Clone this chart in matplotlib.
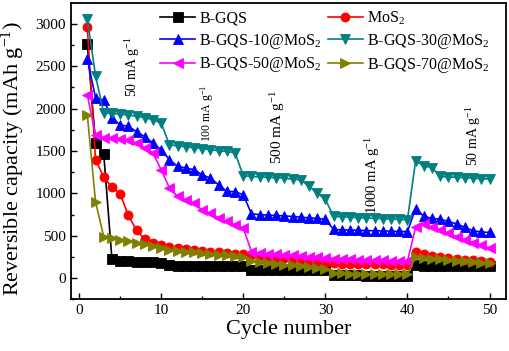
import matplotlib
matplotlib.use("Agg")
import matplotlib.pyplot as plt
from matplotlib.ticker import MultipleLocator

plt.rcParams['font.family'] = ['Liberation Serif', 'DejaVu Serif']
plt.rcParams['mathtext.fontset'] = 'custom'
plt.rcParams['mathtext.rm'] = 'Liberation Serif'
plt.rcParams['mathtext.default'] = 'regular'

cycles = list(range(1, 51))

b_gqs = [2760, 1600, 1470, 225, 205, 200, 195, 190, 190, 185,
         150, 148, 147, 146, 145, 144, 143, 142, 141, 140,
         100, 99, 98, 97, 97, 96, 96, 95, 95, 95,
         35, 34, 33, 33, 32, 32, 31, 31, 30, 30,
         150, 148, 147, 146, 145, 144, 143, 142, 141, 140]

mos2 = [2960, 1400, 1190, 1075, 995, 740, 565, 460, 415, 395,
        370, 355, 345, 335, 325, 315, 305, 298, 290, 285,
        275, 262, 252, 243, 235, 225, 215, 205, 195, 185,
        175, 172, 170, 168, 166, 164, 162, 160, 158, 156,
        310, 285, 265, 250, 238, 228, 218, 210, 200, 193]

gqs10 = [2590, 2130, 2100, 1890, 1810, 1790, 1730, 1670, 1595, 1515,
         1400, 1320, 1300, 1280, 1220, 1180, 1100, 1025, 1020, 985,
         760, 750, 745, 740, 735, 728, 720, 712, 705, 695,
         575, 570, 568, 565, 562, 560, 557, 555, 552, 550,
         820, 730, 705, 695, 670, 640, 600, 560, 545, 540]

gqs30 = [3060, 2390, 1950, 1945, 1935, 1925, 1910, 1895, 1870, 1830,
         1575, 1560, 1550, 1540, 1530, 1515, 1505, 1495, 1480, 1210,
         1200, 1195, 1190, 1185, 1180, 1170, 1160, 1085, 1005, 930,
         730, 725, 720, 715, 710, 706, 702, 698, 694, 690,
         1385, 1325, 1305, 1200, 1195, 1190, 1185, 1180, 1175, 1170]

gqs50 = [2165, 1690, 1655, 1650, 1645, 1630, 1595, 1535, 1475, 1280,
         1065, 965, 925, 885, 805, 765, 710, 672, 630, 590,
         315, 300, 290, 282, 275, 268, 260, 253, 246, 240,
         232, 228, 224, 220, 216, 213, 210, 206, 203, 200,
         600, 640, 600, 570, 530, 490, 455, 420, 390, 355]

gqs70 = [1930, 905, 490, 470, 455, 435, 415, 400, 385, 360,
         335, 325, 315, 305, 295, 285, 275, 268, 260, 255,
         200, 190, 180, 170, 160, 150, 140, 130, 120, 110,
         60, 57, 55, 53, 51, 50, 49, 48, 47, 46,
         250, 240, 232, 225, 215, 207, 200, 192, 185, 178]

labels = ['B-GQS', 'MoS$_2$', 'B-GQS-10@MoS$_2$', 'B-GQS-30@MoS$_2$',
          'B-GQS-50@MoS$_2$', 'B-GQS-70@MoS$_2$']
series = [b_gqs, mos2, gqs10, gqs30, gqs50, gqs70]
colors = ['#000000', '#FF0000', '#0000FF', '#008080', '#FF00FF', '#808000']
markers = ['s', 'o', '^', 'v', '<', '>']

fig = plt.figure(figsize=(5.10, 3.51), dpi=100)
ax = fig.add_axes([0.139, 0.147, 0.853, 0.844])

handles = []
for y, c, m, lab in zip(series, colors, markers, labels):
    h, = ax.plot(cycles, y, color=c, marker=m, markersize=6.5, linewidth=1.2,
                 markeredgewidth=0.6, label=lab)
    handles.append(h)

ax.set_xlim(-1, 52)
ax.set_ylim(-250, 3245)
ax.xaxis.set_major_locator(MultipleLocator(10))
ax.xaxis.set_minor_locator(MultipleLocator(5))
ax.yaxis.set_major_locator(MultipleLocator(500))
ax.yaxis.set_minor_locator(MultipleLocator(250))
ax.tick_params(which='both', direction='in', top=False, right=False,
               labelsize=11, width=1.0)
ax.tick_params(which='major', length=4)
ax.tick_params(which='minor', length=2.5)
for s in ax.spines.values():
    s.set_linewidth(1.3)

ax.set_xlabel('Cycle number', fontsize=16, labelpad=2)
ax.set_ylabel('Reversible capacity (mAh g$^{-1}$)', fontsize=16)
ax.yaxis.set_label_coords(-0.1, 0.475)

order = [0, 2, 4, 1, 3, 5]
ax.legend([handles[i] for i in order], [labels[i] for i in order], ncol=2,
          frameon=False, fontsize=11.5, loc='upper left',
          bbox_to_anchor=(0.183, 1.01), handlelength=2.2, handletextpad=0.25,
          columnspacing=0.4, labelspacing=0.3, borderaxespad=0.2)

ann = dict(rotation=90, ha='center', va='center')
ax.text(6.5, 2500, '50 mA g$^{-1}$', fontsize=10, **ann)
ax.text(15.6, 1950, '100 mA g$^{-1}$', fontsize=8.5, **ann)
ax.text(24.2, 1780, '500 mA g$^{-1}$', fontsize=11, **ann)
ax.text(35.8, 1220, '1000 mA g$^{-1}$', fontsize=10.5, **ann)
ax.text(48.0, 1680, '50 mA g$^{-1}$', fontsize=10, **ann)

fig.savefig('out.png', dpi=100)
